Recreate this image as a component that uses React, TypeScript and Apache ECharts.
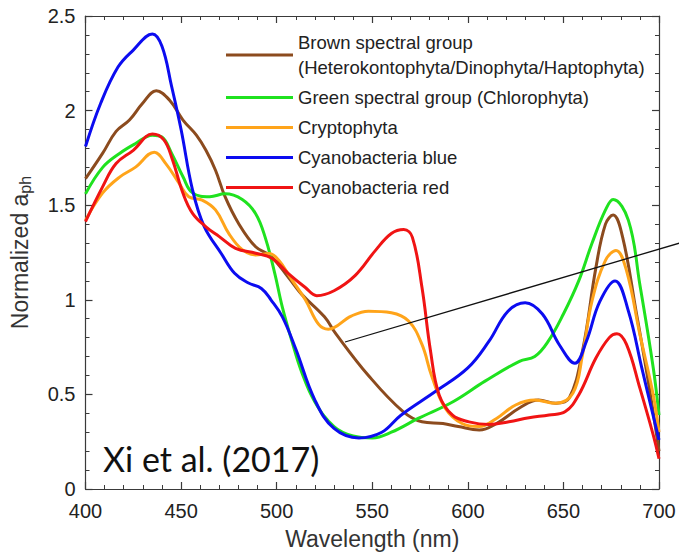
import React, { useEffect, useRef } from "react";
import * as echarts from "echarts";

// ---------- data ----------
const xTicks = [400, 450, 500, 550, 600, 650, 700];
const yTicks = [0, 0.5, 1, 1.5, 2, 2.5];

const brownName = "Brown spectral group\n(Heterokontophyta/Dinophyta/Haptophyta)";
const greenName = "Green spectral group (Chlorophyta)";
const cryptoName = "Cryptophyta";
const blueName = "Cyanobacteria blue";
const redName = "Cyanobacteria red";

const brownWl = [400, 409, 416, 423, 430, 437, 444, 451, 458, 463, 468, 473, 480, 489, 497, 506, 513, 525, 531, 548, 566, 576, 587, 595, 606, 615, 627, 637, 646, 653, 660, 667, 672, 676, 681, 688, 695, 700];
const brownVals = [1.64, 1.775, 1.89, 1.95, 2.04, 2.105, 2.055, 1.95, 1.87, 1.79, 1.685, 1.545, 1.405, 1.28, 1.23, 1.12, 1.03, 0.91, 0.82, 0.6, 0.41, 0.355, 0.346, 0.33, 0.312, 0.346, 0.428, 0.47, 0.453, 0.48, 0.73, 1.17, 1.4, 1.448, 1.33, 0.94, 0.53, 0.2];

const greenWl = [400, 409, 418, 426, 435, 440, 445, 451, 456, 465, 473, 482, 489, 494, 499, 503, 508, 513, 520, 530, 540, 550, 560, 574, 592, 609, 627, 635, 642, 650, 658, 665, 672, 676, 684, 690, 697, 700];
const greenVals = [1.56, 1.7, 1.775, 1.825, 1.87, 1.86, 1.775, 1.65, 1.565, 1.545, 1.56, 1.53, 1.455, 1.33, 1.14, 0.96, 0.78, 0.62, 0.46, 0.33, 0.28, 0.27, 0.3, 0.373, 0.46, 0.57, 0.675, 0.7, 0.78, 0.925, 1.1, 1.3, 1.475, 1.53, 1.42, 1.08, 0.64, 0.39];

const cryptoWl = [400, 409, 418, 426, 436, 442, 449, 454, 461, 468, 475, 482, 489, 496, 501, 508, 515, 522, 527, 539, 548, 560, 569, 576, 581, 588, 597, 606, 615, 625, 635, 646, 655, 660, 665, 672, 677.5, 683, 690, 697, 700];
const cryptoVals = [1.42, 1.565, 1.65, 1.7, 1.78, 1.72, 1.615, 1.545, 1.527, 1.475, 1.35, 1.265, 1.237, 1.245, 1.21, 1.105, 1.0, 0.87, 0.845, 0.914, 0.94, 0.932, 0.888, 0.764, 0.6, 0.43, 0.346, 0.33, 0.373, 0.444, 0.47, 0.453, 0.507, 0.71, 0.995, 1.208, 1.261, 1.154, 0.817, 0.497, 0.3];

const blueWl = [400, 408, 417, 425, 435, 440, 445, 450, 456, 462, 471, 478, 485, 492, 497, 503, 510, 520, 530, 543, 555, 565, 583, 600, 611, 621, 630, 639, 648, 656, 662, 669, 677, 684, 691, 700];
const blueVals = [1.81, 2.04, 2.23, 2.32, 2.405, 2.34, 2.13, 1.9, 1.58, 1.39, 1.245, 1.14, 1.09, 1.06, 1.0, 0.91, 0.74, 0.47, 0.32, 0.27, 0.3, 0.39, 0.515, 0.64, 0.78, 0.94, 0.985, 0.925, 0.76, 0.665, 0.78, 0.99, 1.1, 0.94, 0.64, 0.26];

const redWl = [400, 409, 416, 425, 435, 441, 445.5, 451, 456, 463, 470, 478.5, 489, 497.5, 506, 515, 521, 530, 541, 551.6, 560, 566.5, 571, 576, 580.5, 585, 592, 600.6, 611, 621.5, 632, 642.5, 651, 658, 667, 674, 678, 683, 690, 697, 700];
const redVals = [1.413, 1.598, 1.72, 1.79, 1.876, 1.845, 1.74, 1.563, 1.457, 1.386, 1.334, 1.272, 1.246, 1.22, 1.14, 1.065, 1.022, 1.048, 1.128, 1.26, 1.35, 1.371, 1.33, 1.066, 0.728, 0.497, 0.39, 0.355, 0.341, 0.355, 0.377, 0.391, 0.409, 0.497, 0.692, 0.8, 0.821, 0.764, 0.533, 0.285, 0.16];

const colors = {
  brown: "#8c4b1e",
  green: "#1fe21f",
  crypto: "#ffa41a",
  blue: "#0c0cf0",
  red: "#f01414",
};

const FONT = "'Liberation Sans', Arial, sans-serif";
const AXIS_COLOR = "#3a3a3a";

function pairs(wl: number[], v: number[]) {
  return wl.map((w, i) => [w, v[i]]);
}

export default function App() {
  const ref = useRef<HTMLDivElement>(null);

  useEffect(() => {
    document.body.style.margin = "0";
    if (!ref.current) return;
    const chart = echarts.init(ref.current, undefined, { renderer: "svg" });

    const xMin = xTicks[0];
    const xMax = xTicks[xTicks.length - 1];
    const xInt = xTicks[1] - xTicks[0];
    const yMin = yTicks[0];
    const yMax = yTicks[yTicks.length - 1];
    const yInt = yTicks[1] - yTicks[0];

    const tickCommon = {
      axisLine: { show: true, onZero: false, lineStyle: { color: AXIS_COLOR, width: 1.2 } },
      axisTick: { show: true, inside: true, length: 7, lineStyle: { color: AXIS_COLOR, width: 1.2 } },
      minorTick: { show: true, splitNumber: 5, length: 4, lineStyle: { color: AXIS_COLOR, width: 1 } },
      splitLine: { show: false },
      minorSplitLine: { show: false },
    };

    const mk = (name: string, wl: number[], v: number[], color: string) => ({
      name,
      type: "line",
      data: pairs(wl, v),
      smooth: 0.4,
      showSymbol: false,
      symbol: "none",
      lineStyle: { color, width: 3 },
      itemStyle: { color },
      xAxisIndex: 0,
      yAxisIndex: 0,
    });

    chart.setOption({
      animation: false,
      backgroundColor: "#ffffff",
      grid: { left: 82.5, right: 20, top: 16, bottom: 70, containLabel: false },
      legend: {
        show: true,
        orient: "vertical",
        left: 226,
        top: 30,
        padding: 0,
        itemGap: 5,
        itemWidth: 67,
        itemHeight: 3,
        icon: "rect",
        selectedMode: false,
        data: [brownName, greenName, cryptoName, blueName, redName],
        textStyle: { fontSize: 18.5, lineHeight: 25, color: "#222", fontFamily: FONT },
      },
      xAxis: [
        {
          type: "value",
          position: "bottom",
          min: xMin,
          max: xMax,
          interval: xInt,
          name: "Wavelength (nm)",
          nameLocation: "middle",
          nameGap: 38,
          nameTextStyle: { fontSize: 23, color: "#333", fontFamily: FONT },
          axisLabel: { show: true, fontSize: 20, color: "#222", margin: 12, fontFamily: FONT },
          ...tickCommon,
        },
        {
          type: "value",
          position: "top",
          min: xMin,
          max: xMax,
          interval: xInt,
          axisLabel: { show: false },
          ...tickCommon,
        },
      ],
      yAxis: [
        {
          type: "value",
          position: "left",
          min: yMin,
          max: yMax,
          interval: yInt,
          name: "Normalized a{sub|ph}",
          nameLocation: "middle",
          nameGap: 52,
          nameTextStyle: {
            fontSize: 23,
            color: "#333",
            fontFamily: FONT,
            rich: { sub: { fontSize: 16, color: "#333", fontFamily: FONT, padding: [12, 0, 0, 0] } },
          },
          axisLabel: { show: true, fontSize: 20, color: "#222", margin: 10, fontFamily: FONT },
          ...tickCommon,
        },
        {
          type: "value",
          position: "right",
          min: yMin,
          max: yMax,
          interval: yInt,
          axisLabel: { show: false },
          ...tickCommon,
        },
      ],
      series: [
        mk(brownName, brownWl, brownVals, colors.brown),
        mk(greenName, greenWl, greenVals, colors.green),
        mk(cryptoName, cryptoWl, cryptoVals, colors.crypto),
        mk(blueName, blueWl, blueVals, colors.blue),
        mk(redName, redWl, redVals, colors.red),
      ],
      graphic: [
        {
          type: "text",
          left: 103,
          top: 441,
          z: 10,
          style: { text: "Xi et al. (2017)", fontSize: 34, fontFamily: "Lato, 'Open Sans', sans-serif", fill: "#111" },
        },
        {
          type: "line",
          z: 10,
          shape: { x1: 345, y1: 342, x2: 700, y2: 237 },
          style: { stroke: "#111", lineWidth: 1.3 },
        },
      ],
    });

    return () => {
      chart.dispose();
    };
  }, []);

  return <div ref={ref} style={{ width: 679, height: 559 }} />;
}
